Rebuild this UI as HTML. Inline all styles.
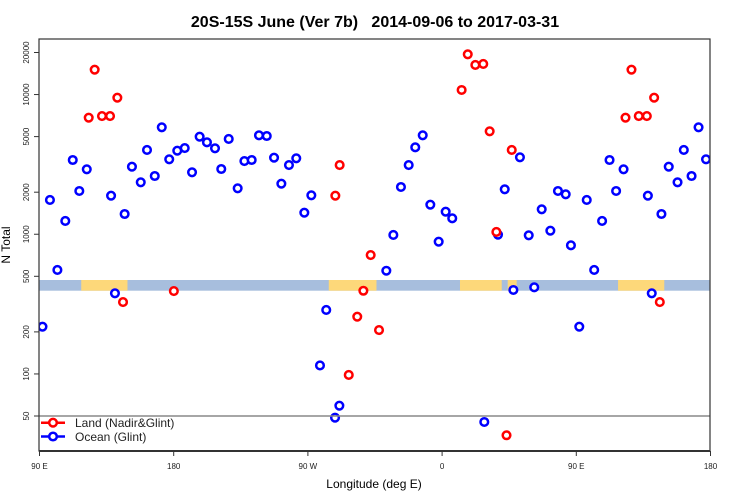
<!DOCTYPE html>
<html><head><meta charset="utf-8"><style>
body{margin:0;background:#fff}
svg{display:block;font-family:"Liberation Sans",sans-serif}
</style></head><body>
<svg id="chart" width="750" height="500" viewBox="0 0 750 500">
<text x="375" y="27" text-anchor="middle" font-size="16" font-weight="bold" style="white-space:pre" xml:space="preserve">20S-15S June (Ver 7b)   2014-09-06 to 2017-03-31</text>
<defs><clipPath id="pc"><rect x="39" y="39" width="671" height="412"/></clipPath></defs>
<g id="band" clip-path="url(#pc)"></g>
<g id="marks" clip-path="url(#pc)"></g>
<line x1="39" y1="416" x2="710" y2="416" stroke="#888" stroke-width="1.5"/>
<rect x="39" y="39" width="671" height="412" fill="none" stroke="#333" stroke-width="1.2"/>
<line x1="39" y1="451" x2="710" y2="451" stroke="#333" stroke-width="2"/>
<g id="axes"></g>
<text x="374" y="488" text-anchor="middle" font-size="12">Longitude (deg E)</text>
<text transform="translate(10,245) rotate(-90)" text-anchor="middle" font-size="12">N Total</text>
<g>
<g>
<line x1="41" y1="422.7" x2="65" y2="422.7" stroke="#f00" stroke-width="2.5"/>
<circle cx="53" cy="422.7" r="3.8" fill="#fff" stroke="#f00" stroke-width="2.5"/>
<text x="75" y="427" font-size="12" fill="#222">Land (Nadir&amp;Glint)</text></g>
<g>
<line x1="41" y1="436.5" x2="65" y2="436.5" stroke="#00f" stroke-width="2.5"/>
<circle cx="53" cy="436.5" r="3.8" fill="#fff" stroke="#00f" stroke-width="2.5"/>
<text x="75" y="441" font-size="12" fill="#222">Ocean (Glint)</text></g>
</g>
</svg>
<script>
const oceanLon=[92,97,102,107.3,112.3,116.7,121.7,138,140.6,147.1,152,157.9,162.1,167.3,172,177,-177.6,-172.6,-167.7,-162.6,-157.7,-152.3,-148.1,-143.1,-137.1,-132.6,-127.7,-122.8,-117.6,-112.7,-107.8,-102.7,-97.8,-92.4,-87.7,-81.9,-77.7,-71.8,-68.9,-37.4,-32.7,-27.6,-22.4,-18,-13,-7.9,-2.3,2.4,6.8,28.3,37.5,42,47.8,52.2,58.1,61.8,66.8,72.6,77.7,82.9,86.4];
const oceanN=[218,1760,555,1245,3400,2040,2917,1888,378,1396,3045,2355,4010,2612,5830,3440,3963,4140,2776,4990,4550,4125,2931,4808,2133,3343,3400,5110,5050,3530,2300,3130,3497,1426,1900,115,287,48.6,59.3,548,988,2179,3130,4190,5110,1628,884,1450,1300,45.3,993,2098,399,3556,983,417,1509,1060,2040,1932,833];
const landLon=[123,127,131.9,137.3,142.2,146,-179.9,-71.6,-68.7,-62.6,-56.9,-52.8,-47.9,-42.3,13.1,17.2,22.3,27.6,31.9,36.4,43.2,46.7];
const landN=[6830,15070,7020,7020,9495,327,392,1888,3130,98.3,257,394,710,206,10780,19410,16280,16550,5458,1038,36.4,4010];
const landBandStart=[118,-76,12,44];
const landBandEnd=[149,-44,40,50];
const xTickLon=[90,180,270,360,450,540];
const xTickLabels=["90 E","180","90 W","0","90 E","180"];
const yTicks=[50,100,200,500,1000,2000,5000,10000,20000];

const NS="http://www.w3.org/2000/svg";
function xs(u){return 39.5+(u-90)*1.4911;}
function ys(v){return 416-139.7*Math.log10(v/50);}
function unwrap(lon){const r=[];for(let k=-1;k<=2;k++){const u=lon+360*k;if(u>=90&&u<540)r.push(u);}return r;}
function mk(tag,attrs,parent){const e=document.createElementNS(NS,tag);for(const k in attrs)e.setAttribute(k,attrs[k]);parent.appendChild(e);return e;}

const band=document.getElementById('band');
let r=mk('rect',{x:39,y:280,width:671,height:10.7,fill:'#a7bedd'},band);


for(let i=0;i<landBandStart.length;i++){
  for(let k=-1;k<=2;k++){
    const a=landBandStart[i]+360*k,b=landBandEnd[i]+360*k;
    if(b<90||a>540)continue;
    const rr=mk('rect',{x:xs(a),y:280,width:xs(b)-xs(a),height:10.7,fill:'#fdd87a'},band);
    
    
  }
}

const marks=document.getElementById('marks');
function drawSeries(lons,vals,color,name){
  for(let i=0;i<lons.length;i++){
    for(const u of unwrap(lons[i])){
      const c=mk('circle',{cx:xs(u),cy:ys(vals[i]),r:3.8,fill:'#fff',stroke:color,'stroke-width':2.5},marks);
      
      
    }
  }
}
drawSeries(oceanLon,oceanN,'#0000ff','ocean-point');
drawSeries(landLon,landN,'#ff0000','land-point');

const axes=document.getElementById('axes');
for(let i=0;i<xTickLon.length;i++){
  const x=xs(xTickLon[i]);
  const t=mk('line',{x1:x,y1:451,x2:x,y2:456,stroke:'#333'},axes);
  
  
  const l=mk('text',{x:x,y:469,'text-anchor':'middle','font-size':8,fill:'#222'},axes);
  l.textContent=xTickLabels[i];
  
  
}
for(let i=0;i<yTicks.length;i++){
  const y=ys(yTicks[i]);
  const t=mk('line',{x1:34,y1:y,x2:39,y2:y,stroke:'#333'},axes);
  
  
  const l=mk('text',{transform:`translate(29,${y}) rotate(-90)`,'text-anchor':'middle','font-size':8,fill:'#222'},axes);
  l.textContent=String(yTicks[i]);
  
  
}
</script>
</body></html>
